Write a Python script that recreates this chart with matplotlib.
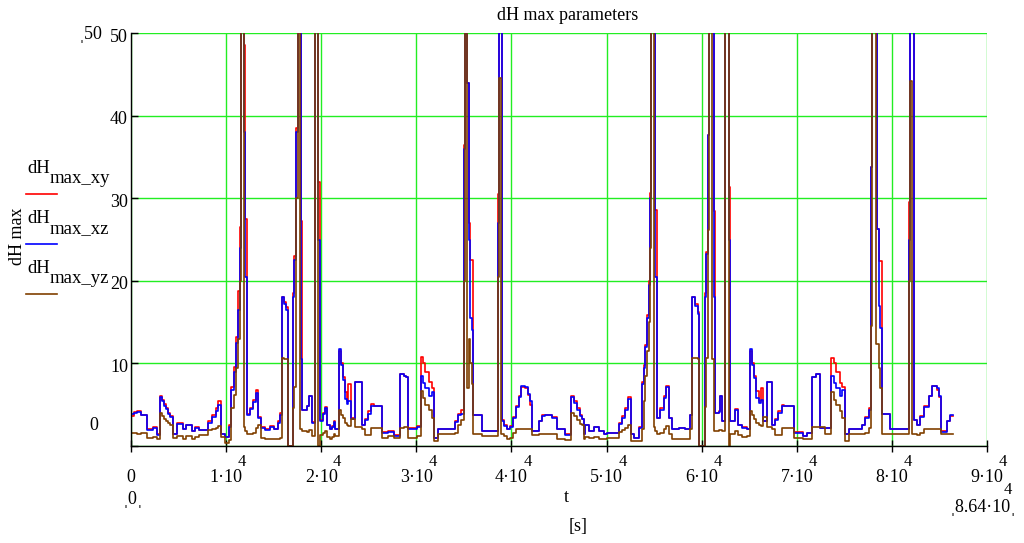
import matplotlib.pyplot as plt
from matplotlib import transforms
from matplotlib.lines import Line2D

# time stamps [s] and the three dH max components (held until the next stamp)
t = [
    0, 300, 600, 1100, 1650, 2350, 2700, 3050, 3250, 3450, 3650, 3900, 4100, 4450,
    4800, 5500, 5800, 6400, 6750, 7100, 8100, 8500, 8900, 9150, 9450, 9900, 10300,
    10550, 10800, 11050, 11250, 11450, 11600, 11850, 12000, 12200, 12500, 12800,
    13100, 13350, 13700,
    14100, 14620, 15000, 15500, 15700, 15850, 16050, 16250, 16550, 17000, 17150,
    17350, 17600, 17770, 17880, 18000, 18500, 18700, 19000, 19350, 19700, 19850,
    20200, 20400, 20600, 20900, 21100, 21300, 21500, 21900, 22100, 22300, 22500,
    22700, 22850, 23100, 23600, 24250, 24600, 24900, 25250, 25500, 26350, 27000,
    27700, 28300, 28700, 28950,
    29170, 30050, 30500, 30700, 30930, 31280, 31630, 31900, 32330, 34080, 34430,
    34650, 34960, 35100, 35310, 35490, 35660, 35840, 36010, 36890, 38550, 38700,
    38900, 39000, 39200, 39500, 39900, 40200, 40500, 40800, 41000, 41450, 41700,
    42000, 42150, 42850, 43210,
    43550, 44250, 44780, 45650, 46290, 46530, 46880, 47230, 47410, 47600, 47760,
    48110, 48640, 49160, 49690, 50040, 51270, 51600, 51970, 52300, 52570, 52900,
    53370, 53720, 53900, 54070, 54250, 54420, 54600, 54720, 54950, 55120, 55300,
    55650, 56000, 56300, 56520, 56870, 57570,
    58280, 58810, 58980, 59300, 59600, 59750, 60300, 60480, 60650, 60800, 61090,
    61260, 61440, 61790, 61960, 62140, 62490, 62840, 63020, 63540, 63800, 64200,
    64770, 65120, 65300, 65500, 65750, 65990, 66200, 66450, 66870, 67390, 67700,
    68000, 68440, 68620, 69670, 70700, 71070, 71600, 72000, 72400, 73010,
    73640, 73900, 74100, 74500, 74800, 75050, 75460, 76870, 77220, 77550, 77800,
    77920, 78350, 78440, 78620, 78790, 78970, 79840, 81770, 81940, 82120, 82290,
    82640, 83000, 83400, 83870, 84220, 84700, 85000, 85200, 85790, 86140, 86400,
]
dh_xy = [
    3.6, 4.1, 4.2, 3.8, 2.0, 2.3, 1.4, 6.1, 5.6, 5.1, 4.6, 4.0, 3.6, 1.5,
    2.8, 2.0, 2.6, 1.8, 2.3, 1.9, 3.0, 3.8, 4.6, 5.5, 1.5, 1.1, 2.5,
    7.2, 9.6, 13.2, 18.8, 26.5, 60, 48.5, 27.5, 3.9, 4.6, 5.6,
    6.8, 3.5, 2.3,
    2.0, 2.4, 2.1, 3.0, 4.0, 18.0, 17.4, 16.8, 0.0, 18.5, 23.0,
    38.5, 60, 60, 27.3, 4.4, 4.8, 6.1, 2.9, 60, 32.0, 3.2,
    4.0, 4.7, 2.6, 2.1, 2.4, 3.0, 2.0, 11.5, 10.0, 8.4, 6.5,
    5.5, 7.5, 3.4, 7.7, 2.6, 3.3, 4.2, 5.1, 4.9, 1.7, 1.8,
    1.3, 8.7, 8.5, 8.3,
    2.2, 2.4, 10.8, 10.1, 9.0, 7.7, 7.0, 1.0, 2.0, 3.0, 3.9,
    4.3, 36.5, 60, 44.0, 27.0, 22.5, 22.5, 3.8, 1.8, 30.5, 60,
    60, 3.1, 2.5, 2.0, 2.4, 3.5, 4.8, 6.0, 7.1, 7.0, 6.2,
    5.0, 1.8, 3.0, 3.7,
    3.8, 3.5, 2.0, 1.4, 6.0, 5.4, 4.6, 3.8, 3.3, 1.4, 2.5,
    1.8, 2.3, 1.8, 1.4, 1.6, 2.8, 3.6, 4.6, 5.9, 1.4, 1.0,
    2.3, 7.8, 9.8, 12.2, 15.8, 20.0, 30.6, 60, 60, 28.6, 3.4,
    4.6, 6.0, 7.3, 3.4, 2.0, 2.2,
    2.0, 3.8, 18.0, 17.2, 16.2, 0.0, 18.5, 23.5, 37.6, 60, 60,
    28.5, 4.0, 4.2, 6.0, 3.0, 60, 31.3, 3.0, 4.5, 2.6, 2.3,
    2.0, 11.5, 10.0, 8.5, 6.6, 5.4, 7.0, 3.0, 7.7, 2.6, 3.3,
    4.2, 5.0, 4.9, 1.7, 1.2, 1.6, 8.3, 8.7, 2.2, 2.2,
    10.7, 10.1, 9.0, 7.6, 7.2, 1.4, 2.0, 2.6, 3.5, 4.6, 33.8,
    60, 60, 26.3, 22.4, 22.4, 3.9, 2.0, 29.5, 60, 60, 3.1,
    2.6, 3.6, 4.8, 6.0, 7.3, 6.8, 5.9, 1.8, 3.0, 3.6, 3.6,
]
dh_xz = [
    3.9, 4.0, 4.1, 3.7, 1.9, 2.2, 1.3, 5.9, 5.4, 4.9, 4.5, 3.9, 3.5, 1.5,
    2.7, 2.0, 2.5, 1.8, 2.2, 1.9, 2.8, 3.5, 4.2, 5.0, 1.4, 1.1, 2.3,
    6.8, 9.0, 12.5, 16.5, 24.0, 60, 38.0, 20.5, 3.8, 4.5, 5.3,
    6.4, 3.4, 2.2,
    1.9, 2.3, 2.0, 2.8, 3.8, 18.0, 17.2, 16.5, 0.0, 18.0, 22.5,
    38.0, 60, 60, 10.5, 4.3, 4.8, 6.0, 2.8, 60, 25.0, 3.0,
    3.9, 4.6, 2.5, 2.0, 2.3, 2.9, 2.0, 11.7, 9.8, 8.0, 5.7,
    5.1, 5.5, 3.3, 7.7, 2.6, 3.1, 3.9, 4.8, 4.8, 1.6, 1.7,
    1.2, 8.7, 8.5, 8.3,
    2.1, 2.3, 8.5, 7.6, 7.0, 6.0, 6.5, 1.0, 2.0, 2.9, 3.8,
    3.9, 36.0, 60, 44.0, 25.0, 15.5, 14.0, 3.8, 1.8, 27.0, 60,
    60, 3.0, 2.4, 2.0, 2.3, 3.4, 4.7, 5.9, 7.3, 7.1, 6.3,
    5.4, 1.8, 3.0, 3.6,
    3.7, 3.4, 2.0, 1.3, 5.9, 5.2, 4.4, 3.6, 3.3, 1.4, 2.5,
    1.8, 2.3, 1.8, 1.4, 1.6, 2.7, 3.4, 4.3, 5.7, 1.4, 1.0,
    2.2, 7.5, 9.5, 12.0, 15.5, 19.5, 30.0, 60, 60, 20.4, 3.4,
    4.4, 5.8, 7.2, 3.4, 2.0, 2.2,
    2.0, 3.7, 18.0, 17.0, 16.0, 0.0, 18.0, 23.3, 37.6, 60, 60,
    18.0, 4.0, 4.1, 6.0, 3.0, 60, 25.0, 3.0, 4.4, 2.6, 2.2,
    2.0, 11.7, 9.8, 8.2, 5.8, 5.2, 5.6, 3.0, 7.7, 2.6, 3.2,
    4.0, 4.8, 4.8, 1.6, 1.2, 1.6, 8.3, 8.7, 2.2, 2.2,
    8.5, 7.6, 7.0, 6.0, 6.8, 1.4, 2.0, 2.5, 3.4, 4.4, 33.8,
    60, 60, 26.3, 17.0, 14.3, 3.9, 2.0, 25.0, 60, 60, 3.1,
    2.5, 3.5, 4.7, 6.0, 7.3, 7.0, 6.0, 1.7, 3.0, 3.7, 3.7,
]
dh_yz = [
    1.6, 1.6, 1.4, 1.6, 1.0, 1.1, 0.8, 4.0, 3.6, 3.3, 3.0, 2.8, 2.5, 1.0,
    1.2, 0.9, 1.2, 0.8, 1.1, 1.3, 1.9, 2.0, 2.2, 2.4, 1.1, 0.4, 0.7,
    4.6, 6.2, 9.5, 13.0, 20.0, 60, 2.3, 1.8, 1.5, 1.5, 1.6,
    2.2, 2.6, 1.0,
    0.9, 0.9, 0.8, 0.9, 1.0, 10.7, 10.5, 10.5, 0.0, 4.6, 7.2,
    30.0, 60, 2.0, 2.0, 1.8, 1.7, 1.9, 1.2, 60, 0.0, 1.3,
    1.6, 1.8, 1.1, 0.9, 1.1, 1.5, 1.2, 4.3, 3.8, 3.4, 2.8,
    2.6, 2.4, 3.3, 2.3, 2.1, 1.3, 1.3, 2.2, 2.2, 1.0, 1.2,
    1.0, 2.2, 2.3, 2.3,
    1.0, 1.2, 6.7, 5.8, 5.0, 4.3, 3.4, 0.6, 1.4, 1.6, 2.5,
    3.2, 20.0, 60, 7.0, 13.0, 10.0, 7.5, 1.4, 1.2, 20.5, 44.5,
    1.4, 1.4, 1.2, 0.9, 1.0, 1.6, 2.0, 2.0, 2.0, 2.0, 2.0,
    2.0, 1.3, 1.4, 1.4,
    1.4, 1.4, 0.9, 0.7, 4.0, 3.6, 3.1, 2.7, 2.5, 0.9, 1.1,
    1.0, 1.1, 0.9, 0.9, 1.0, 1.7, 1.9, 2.2, 2.6, 0.6, 0.6,
    0.6, 2.0, 5.5, 8.5, 11.5, 15.0, 24.0, 60, 2.3, 1.8, 1.4,
    1.6, 2.0, 2.4, 1.4, 0.9, 0.9,
    0.9, 2.0, 10.7, 10.6, 10.5, 0.0, 4.7, 10.7, 26.2, 60, 10.5,
    1.8, 1.8, 1.9, 1.9, 1.8, 60, 0.0, 1.4, 1.8, 1.3, 1.1,
    1.2, 4.2, 3.8, 3.3, 2.8, 2.6, 2.4, 3.5, 2.3, 2.0, 1.3,
    1.3, 2.2, 2.2, 1.0, 0.9, 0.9, 2.3, 2.3, 2.3, 1.4,
    6.5, 5.6, 5.0, 4.2, 3.4, 0.6, 1.4, 1.4, 1.6, 2.2, 14.5,
    60, 12.3, 12.3, 9.5, 7.0, 1.4, 1.4, 20.0, 44.2, 1.4, 1.4,
    1.3, 1.6, 2.0, 2.0, 2.0, 2.0, 2.0, 1.4, 1.4, 1.5, 1.5,
]

x_ticks = [0, 10000, 20000, 30000, 40000, 50000, 60000, 70000, 80000, 90000]
y_ticks = [0, 10, 20, 30, 40, 50]
series_names = ['max_xy', 'max_xz', 'max_yz']
series_colors = ['#ff0000', '#0000ff', '#804000']

plt.rcParams['font.family'] = ['Liberation Serif', 'DejaVu Serif']
plt.rcParams['font.size'] = 13

W, H = 1024, 543
fig = plt.figure(figsize=(W / 100, H / 100), dpi=100)
ax = fig.add_axes([131 / W, 1 - 446 / H, 856 / W, 413 / H])

for vals, c in zip([dh_xy, dh_xz, dh_yz], series_colors):
    ax.step(t, vals, where='post', color=c, lw=1.2)

ax.set_xlim(0, 90000)
ax.set_ylim(0, 50)
ax.set_xticks(x_ticks)
ax.set_yticks(y_ticks)
ax.grid(True, color='#22ee22', lw=1.0)
ax.set_axisbelow(True)
ax.spines['top'].set_visible(False)
ax.spines['right'].set_visible(False)
ax.spines['left'].set_linewidth(1.0)
ax.spines['bottom'].set_linewidth(1.0)
ax.tick_params(axis='x', direction='inout', length=9, width=1, labelbottom=False)
ax.tick_params(axis='y', direction='in', length=5, width=1, labelleft=False)

# tick labels in the k·10^4 style
xt = ax.get_xaxis_transform()
for v in x_ticks:
    if v == 0:
        ax.text(v, 0, '0', transform=transforms.offset_copy(xt, fig, x=0, y=-31, units='dots'),
                ha='center', va='center')
        continue
    ax.text(v, 0, '%d\u00b710' % (v // 10000),
            transform=transforms.offset_copy(xt, fig, x=0, y=-32, units='dots'),
            ha='center', va='center')
    ax.text(v, 0, '4', transform=transforms.offset_copy(xt, fig, x=16, y=-16, units='dots'),
            ha='center', va='center', fontsize=12)

yt = ax.get_yaxis_transform()
for v in y_ticks[1:]:
    ax.text(0, v, str(v), transform=transforms.offset_copy(yt, fig, x=-3, y=-4, units='dots'),
            ha='right', va='center')
ax.text(0, 0, '0', transform=transforms.offset_copy(yt, fig, x=-37, y=20, units='dots'),
        ha='center', va='center')

def fx(px):
    return px / W

def fy(py):
    return 1 - py / H

# range limits
fig.text(fx(90), fy(34), '\u02cc50', ha='center', va='center')
fig.text(fx(133), fy(500), '\u02cc0\u02cc', ha='center', va='center')
fig.text(fx(983), fy(507), '\u02cc8.64\u00b710\u02cc', ha='center', va='center')
fig.text(fx(1008), fy(490), '4', ha='center', va='center', fontsize=12)

# titles
fig.text(fx(568), fy(16), 'dH max parameters', ha='center', va='center')
fig.text(fx(566), fy(497), 't', ha='center', va='center')
fig.text(fx(578), fy(527), '[s]', ha='center', va='center')
fig.text(fx(17), fy(236), 'dH max', ha='center', va='center', rotation=90)

# legend: name with subscript, line sample underneath
for i, (name, c) in enumerate(zip(series_names, series_colors)):
    dy = 50 * i
    fig.text(fx(27), fy(173 + dy), 'dH', ha='left', va='baseline', fontsize=13.5)
    fig.text(fx(50), fy(183 + dy), name, ha='left', va='baseline', fontsize=13.5)
    fig.add_artist(Line2D([fx(26), fx(57)], [fy(194 + dy), fy(194 + dy)],
                          transform=fig.transFigure, color=c, lw=1.2))

fig.savefig('out.png', dpi=100)
